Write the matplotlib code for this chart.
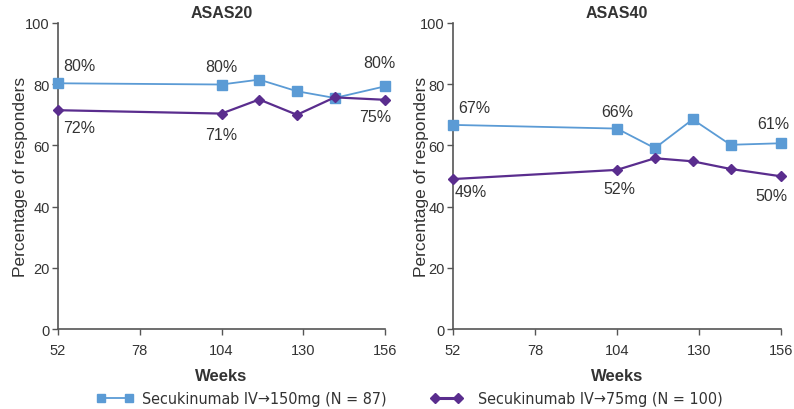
import matplotlib
matplotlib.use("Agg")
import matplotlib.pyplot as plt
from matplotlib.lines import Line2D
from matplotlib.font_manager import FontProperties

plt.rcParams['font.family'] = ['Liberation Sans', 'DejaVu Sans']

weeks = [52, 104, 116, 128, 140, 156]
xticks = [52, 78, 104, 130, 156]
yticks = [0, 20, 40, 60, 80, 100]

asas20_150 = [80.3, 79.9, 81.5, 77.7, 75.5, 79.3]
asas20_75 = [71.5, 70.4, 75.0, 70.0, 75.7, 74.9]
asas40_150 = [66.7, 65.5, 59.1, 68.5, 60.2, 60.7]
asas40_75 = [49.0, 52.0, 55.8, 54.8, 52.3, 49.9]

titles = ["ASAS20", "ASAS40"]
label_150 = "Secukinumab IV\u2192150mg (N = 87)"
label_75 = "Secukinumab IV\u219275mg (N = 100)"

ann20 = [(0, '150', '80%', 5, 18, 'left'), (0, '75', '72%', 5, -17, 'left'),
         (1, '150', '80%', 0, 18, 'center'), (1, '75', '71%', 0, -21, 'center'),
         (5, '150', '80%', -6, 24, 'center'), (5, '75', '75%', -10, -17, 'center')]
ann40 = [(0, '150', '67%', 5, 17, 'left'), (0, '75', '49%', 2, -12, 'left'),
         (1, '150', '66%', 0, 17, 'center'), (1, '75', '52%', 2, -19, 'center'),
         (5, '150', '61%', -8, 20, 'center'), (5, '75', '50%', -10, -19, 'center')]

blue = '#5b9bd5'
purple = '#5a2d8e'
spine_c = '#555555'
txt_c = '#333333'

fig = plt.figure(figsize=(7.94, 4.10), dpi=100)
ax1 = fig.add_axes([58/794, 1-330/410, 327/794, 306/410])
ax2 = fig.add_axes([453/794, 1-330/410, 328/794, 306/410])

for ax, title, s150, s75, ann, ylx in [(ax1, titles[0], asas20_150, asas20_75, ann20, -0.093),
                                       (ax2, titles[1], asas40_150, asas40_75, ann40, -0.072)]:
    ax.plot(weeks, s150, color=blue, marker='s', markersize=6.5, linewidth=1.3, clip_on=False, zorder=3)
    ax.plot(weeks, s75, color=purple, marker='D', markersize=5.5, linewidth=1.6, clip_on=False, zorder=3)
    ax.set_xlim(52, 156)
    ax.set_ylim(0, 100)
    ax.set_xticks(xticks)
    ax.set_yticks(yticks)
    for sp in ['top', 'right']:
        ax.spines[sp].set_visible(False)
    for sp in ['left', 'bottom']:
        ax.spines[sp].set_color(spine_c)
        ax.spines[sp].set_linewidth(1.2)
    ax.tick_params(axis='both', direction='out', length=4, width=1, color=spine_c,
                   labelsize=10.5, labelcolor=txt_c, pad=2)
    ax.tick_params(axis='x', pad=6)
    ax.set_title(title, fontsize=11.5, fontweight='bold', color=txt_c, pad=4)
    ax.set_xlabel("Weeks", fontsize=12, fontweight='bold', color=txt_c, labelpad=8)
    ax.set_ylabel("Percentage of responders", fontsize=12.5, color=txt_c)
    ax.yaxis.set_label_coords(ylx, 0.5)
    for i, ser, t, dx, dy, ha in ann:
        yv = s150[i] if ser == '150' else s75[i]
        ax.annotate(t, (weeks[i], yv), xytext=(dx, dy), textcoords='offset pixels',
                    ha=ha, va='center', fontsize=11.5, color=txt_c,
                    annotation_clip=False)

leg_font = FontProperties(family='DejaVu Sans', stretch='condensed', size=11.5)
h1 = Line2D([], [], color=blue, marker='s', markersize=6, linewidth=1.3)
h2 = Line2D([], [], color=purple, marker='D', markersize=5.5, linewidth=2.2)
fig.legend([h1], [label_150], loc='center left', bbox_to_anchor=(96/794, 10/410),
           frameon=False, prop=leg_font, numpoints=2, handlelength=2.35,
           handletextpad=0.55, labelcolor=txt_c, borderaxespad=0, borderpad=0)
fig.legend([h2], [label_75], loc='center left', bbox_to_anchor=(430/794, 10/410),
           frameon=False, prop=leg_font, numpoints=2, handlelength=2.05,
           handletextpad=0.95, labelcolor=txt_c, borderaxespad=0, borderpad=0)

fig.savefig("out.png", dpi=100)
